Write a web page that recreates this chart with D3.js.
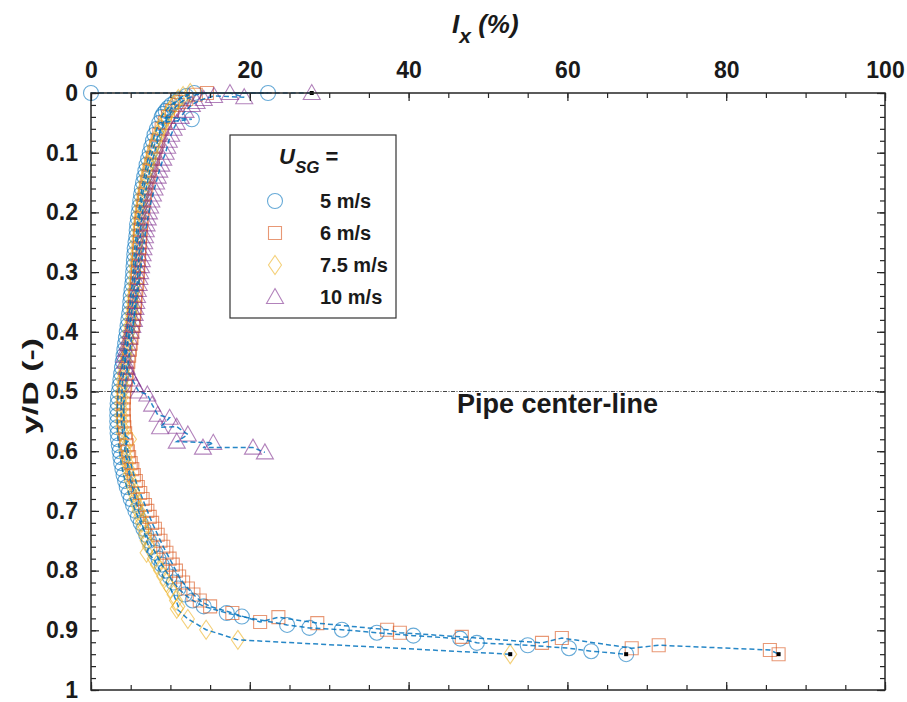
<!DOCTYPE html>
<html>
<head>
<meta charset="utf-8">
<script src="https://cdn.jsdelivr.net/npm/d3@7"></script>
<style>
  html, body { margin: 0; padding: 0; background: #fff; }
  svg { display: block; }
  text { font-family: Arial, "Liberation Sans", Helvetica, sans-serif; font-weight: bold; fill: #1a1a1a; }
</style>
</head>
<body>
<svg id="chart" width="907" height="702"></svg>
<script>
// ---------------- DATA ----------------
const xTicks = [0, 20, 40, 60, 80, 100];
const yTicks = [0, 0.1, 0.2, 0.3, 0.4, 0.5, 0.6, 0.7, 0.8, 0.9, 1];
const yTickLabels = ["0", "0.1", "0.2", "0.3", "0.4", "0.5", "0.6", "0.7", "0.8", "0.9", "1"];
const seriesNames = ["5 m/s", "6 m/s", "7.5 m/s", "10 m/s"];

// common y/D positions in the main band
const yBand = [0.10,0.11,0.12,0.13,0.14,0.15,0.16,0.17,0.18,0.19,0.20,0.21,0.22,0.23,0.24,0.25,0.26,0.27,0.28,0.29,
  0.30,0.31,0.32,0.33,0.34,0.35,0.36,0.37,0.38,0.39,0.40,0.41,0.42,0.43,0.44,0.45,0.46,0.47,0.48,0.49,
  0.50,0.51,0.52,0.53,0.54,0.55,0.56,0.57,0.58,0.59,0.60,0.61,0.62,0.63,0.64,0.65,0.66,0.67,0.68,0.69,
  0.70,0.71,0.72,0.73,0.74,0.75,0.76,0.77,0.78,0.79,0.80,0.81,0.82,0.83,0.84,0.85,0.86];

// U_SG = 5 m/s (circles)
const yTop5  = [0, 0, 0, 0.005, 0.01, 0.015, 0.02, 0.025, 0.03, 0.035, 0.04, 0.044, 0.05, 0.06, 0.07, 0.08, 0.09];
const ixTop5 = [0, 22.3, 13.0, 12.0, 11.2, 10.6, 10.1, 9.7, 9.4, 9.1, 8.9, 12.7, 8.6, 8.3, 8.0, 7.8, 7.6];
const ixBand5 = [7.4,7.2,7.0,6.85,6.7,6.55,6.4,6.3,6.2,6.1,6.0,5.9,5.8,5.75,5.7,5.6,5.5,5.45,5.4,5.35,
  5.3,5.25,5.2,5.1,5.0,4.95,4.9,4.8,4.7,4.6,4.5,4.4,4.3,4.2,4.1,4.0,3.9,3.8,3.7,3.6,
  3.5,3.4,3.35,3.3,3.3,3.3,3.3,3.35,3.4,3.5,3.6,3.7,3.8,3.95,4.1,4.3,4.5,4.75,5.0,5.3,
  5.6,5.9,6.25,6.6,6.95,7.3,7.7,8.1,8.5,8.9,9.4,9.9,10.4,11.0,11.8,12.8,14.2];
const yTail5  = [0.871, 0.877, 0.891, 0.896, 0.899, 0.904, 0.909, 0.914, 0.921, 0.925, 0.930, 0.935, 0.940];
const ixTail5 = [17.1, 19.0, 24.7, 27.5, 31.6, 36.0, 40.6, 46.5, 48.6, 55.0, 60.2, 63.0, 67.4];

// U_SG = 6 m/s (squares)
const yTop6  = [0, 0.003, 0.01, 0.015, 0.02, 0.03, 0.04, 0.05, 0.06, 0.07, 0.08, 0.09];
const ixTop6 = [14.6, 13.2, 12.0, 11.4, 10.9, 10.2, 9.7, 9.3, 8.9, 8.6, 8.4, 8.2];
const ixBand6 = [8.0,7.8,7.6,7.4,7.25,7.1,6.95,6.8,6.7,6.6,6.5,6.4,6.3,6.25,6.2,6.15,6.1,6.05,6.0,5.95,
  5.9,5.85,5.8,5.7,5.6,5.55,5.5,5.45,5.4,5.3,5.2,5.1,5.0,4.9,4.8,4.7,4.6,4.5,4.4,4.3,
  4.2,4.15,4.1,4.1,4.1,4.15,4.2,4.3,4.4,4.5,4.65,4.8,5.0,5.2,5.4,5.65,5.9,6.2,6.5,6.8,
  7.1,7.4,7.7,8.05,8.4,8.75,9.1,9.5,9.9,10.3,10.7,11.1,11.6,12.2,12.9,13.7,15.0];
const yTail6  = [0.871, 0.886, 0.878, 0.888, 0.899, 0.904, 0.911, 0.921, 0.913, 0.930, 0.925, 0.933, 0.940];
const ixTail6 = [17.8, 21.3, 23.6, 28.5, 37.3, 38.9, 46.7, 56.8, 59.3, 68.1, 71.5, 85.5, 86.6];

// U_SG = 7.5 m/s (diamonds)
const yTop75  = [0, 0.005, 0.01, 0.02, 0.03, 0.04, 0.05, 0.06, 0.07, 0.08, 0.09];
const ixTop75 = [12.5, 11.6, 11.0, 10.4, 9.9, 9.5, 9.1, 8.8, 8.5, 8.2, 7.9];
const ixBand75 = [7.7,7.5,7.3,7.1,6.95,6.8,6.65,6.5,6.4,6.3,6.2,6.1,6.0,5.95,5.9,5.8,5.75,5.7,5.65,5.6,
  5.55,5.5,5.45,5.4,5.3,5.25,5.2,5.1,5.0,4.9,4.8,4.7,4.6,4.5,4.4,4.3,4.2,4.1,4.0,3.95,
  3.9,3.85,3.8,3.8,3.8,3.85,3.9,4.0,4.9,4.2,4.3,4.4,4.55,4.7,4.85,5.0,5.2,5.4,5.6,5.8,
  6.0,6.2,6.4,6.6,6.8,7.0,7.3,7.0,7.9,8.3,8.7,9.1,9.5,10.0,10.4,10.7,11.0];
const yTail75  = [0.864, 0.881, 0.899, 0.916, 0.940];
const ixTail75 = [10.8, 12.2, 14.5, 18.5, 52.8];

// U_SG = 10 m/s (triangles)
const yTop10  = [0, 0, 0.007, 0.005, 0.01, 0.015, 0.02, 0.03, 0.04, 0.05, 0.06, 0.07, 0.08, 0.09];
const ixTop10 = [27.8, 17.5, 19.3, 15.5, 14.2, 13.3, 12.7, 11.9, 11.3, 10.8, 10.4, 10.1, 9.8, 9.6];
const ixBand10 = [9.4,9.1,8.85,8.6,8.4,8.2,8.0,7.8,7.6,7.45,7.3,7.15,7.0,6.9,6.8,6.7,6.6,6.5,6.4,6.3,
  6.2,6.1,6.0,5.9,5.8,5.7,5.6,5.5,5.4,5.2,5.0,4.8,4.6,4.4,4.2,4.3,4.5,4.8,5.2,5.6,6.0]; // y 0.10 .. 0.50
const yTail10  = [0.505, 0.522, 0.539, 0.544, 0.560, 0.559, 0.572, 0.584, 0.586, 0.594, 0.594, 0.602];
const ixTail10 = [7.1, 7.7, 8.4, 9.9, 8.7, 10.8, 12.2, 10.8, 15.4, 14.1, 20.4, 21.9];

// end-of-profile markers (black dots)
const dotIx = [27.8, 67.4, 86.6, 52.8];
const dotY  = [0, 0.940, 0.940, 0.940];

// ---------------- CHART ----------------
const svg = d3.select("#chart");
const x = d3.scaleLinear().domain([0, 100]).range([91, 885]);
const y = d3.scaleLinear().domain([0, 1]).range([93, 690]);

function build(yt, it, ib, yb, ytl, itl) {
  const pts = [];
  yt.forEach((v, i) => pts.push([it[i], v]));
  ib.forEach((v, i) => pts.push([v, yb[i]]));
  ytl.forEach((v, i) => pts.push([itl[i], v]));
  return pts;
}
const series = [
  { name: seriesNames[0], shape: "circle",   color: "#0072BD", pts: build(yTop5, ixTop5, ixBand5, yBand, yTail5, ixTail5) },
  { name: seriesNames[1], shape: "square",   color: "#D95319", pts: build(yTop6, ixTop6, ixBand6, yBand, yTail6, ixTail6) },
  { name: seriesNames[2], shape: "diamond",  color: "#EDB120", pts: build(yTop75, ixTop75, ixBand75, yBand, yTail75, ixTail75) },
  { name: seriesNames[3], shape: "triangle", color: "#7E2F8E", pts: build(yTop10, ixTop10, ixBand10, yBand.slice(0, ixBand10.length), yTail10, ixTail10) }
];

function markerPath(shape) {
  switch (shape) {
    case "circle":   return "M7.5,0A7.5,7.5 0 1,1 -7.5,0A7.5,7.5 0 1,1 7.5,0Z";
    case "square":   return "M-6.5,-6.5H6.5V6.5H-6.5Z";
    case "diamond":  return "M0,-9.5L6.5,0L0,9.5L-6.5,0Z";
    case "triangle": return "M0,-8.5L8.5,6.5H-8.5Z";
  }
}

// pipe centre-line
svg.append("line")
  .attr("x1", x(0)).attr("x2", x(100)).attr("y1", y(0.5)).attr("y2", y(0.5))
  .attr("stroke", "#444").attr("stroke-width", 1.2).attr("stroke-dasharray", "4,1.5,1,1.5");
svg.append("text").attr("x", 457).attr("y", y(0.5) + 21)
  .attr("font-size", 27).text("Pipe center-line");

// markers
const gM = svg.append("g");
series.forEach(s => {
  gM.selectAll(null).data(s.pts).enter().append("path")
    .attr("d", markerPath(s.shape))
    .attr("transform", d => `translate(${x(d[0])},${y(d[1])})`)
    .attr("fill", "none").attr("stroke", s.color)
    .attr("stroke-opacity", 0.6).attr("stroke-width", 1.1);
});

// dashed connecting lines
const line = d3.line().x(d => x(d[0])).y(d => y(d[1]));
series.forEach(s => {
  svg.append("path").datum(s.pts).attr("d", line)
    .attr("fill", "none").attr("stroke", "#0072BD").attr("stroke-opacity", 0.85)
    .attr("stroke-width", 1.5).attr("stroke-dasharray", "5,3");
});

// black end dots
svg.selectAll(null).data(dotIx).enter().append("rect")
  .attr("x", (d) => x(d) - 2).attr("y", (d, i) => y(dotY[i]) - 2)
  .attr("width", 4).attr("height", 4).attr("fill", "#000");

// axes
const axisColor = "#262626";
const minorX = d3.range(0, 101, 5);
const minorY = d3.range(0, 51).map(i => i / 50);

svg.append("g").attr("transform", `translate(0,${y(0)})`)
  .call(d3.axisTop(x).tickValues(xTicks).tickSize(-8).tickPadding(15).tickFormat(d3.format("d")));
svg.append("g").attr("transform", `translate(0,${y(0)})`)
  .call(d3.axisTop(x).tickValues(minorX).tickSize(-5).tickFormat(""));
svg.append("g").attr("transform", `translate(0,${y(1)})`)
  .call(d3.axisBottom(x).tickValues(xTicks).tickSize(-8).tickFormat(""));
svg.append("g").attr("transform", `translate(0,${y(1)})`)
  .call(d3.axisBottom(x).tickValues(minorX).tickSize(-5).tickFormat(""));

svg.append("g").attr("transform", `translate(${x(0)},0)`)
  .call(d3.axisLeft(y).tickValues(yTicks).tickSize(-8).tickPadding(13).tickFormat((d, i) => yTickLabels[i]));
svg.append("g").attr("transform", `translate(${x(0)},0)`)
  .call(d3.axisLeft(y).tickValues(minorY).tickSize(-5).tickFormat(""));
svg.append("g").attr("transform", `translate(${x(100)},0)`)
  .call(d3.axisRight(y).tickValues(yTicks).tickSize(-8).tickFormat(""));
svg.append("g").attr("transform", `translate(${x(100)},0)`)
  .call(d3.axisRight(y).tickValues(minorY).tickSize(-5).tickFormat(""));

svg.selectAll(".domain").remove();
svg.selectAll(".tick line").attr("stroke", axisColor).attr("stroke-width", 1.2);
svg.selectAll(".tick text").attr("font-size", 23).attr("font-family", "Arial, 'Liberation Sans', sans-serif")
  .attr("font-weight", "bold").attr("fill", "#1a1a1a");

svg.append("rect").attr("x", x(0)).attr("y", y(0)).attr("width", x(100) - x(0)).attr("height", y(1) - y(0))
  .attr("fill", "none").attr("stroke", axisColor).attr("stroke-width", 1.5);

// axis titles
const tt = svg.append("text").attr("x", 452).attr("y", 33).attr("font-size", 26).attr("font-style", "italic");
tt.append("tspan").text("I");
tt.append("tspan").attr("dy", 10).attr("font-size", 21).text("x");
tt.append("tspan").attr("dy", -10).text(" (%)");

svg.append("text").attr("transform", `translate(38,386) rotate(-90)`).attr("text-anchor", "middle")
  .attr("font-size", 22).attr("textLength", 96).attr("lengthAdjust", "spacingAndGlyphs").text("y/D (-)");

// legend
const lg = svg.append("g");
lg.append("rect").attr("x", 230).attr("y", 135).attr("width", 166).attr("height", 183)
  .attr("fill", "#fff").attr("stroke", "#333").attr("stroke-width", 1.2);
const lt = lg.append("text").attr("x", 279).attr("y", 164).attr("font-size", 22).attr("font-style", "italic");
lt.append("tspan").text("U");
lt.append("tspan").attr("dy", 9).attr("font-size", 17).text("SG");
lt.append("tspan").attr("dy", -9).attr("font-style", "normal").text(" =");
const rowY = [201, 233, 265, 297];
series.forEach((s, i) => {
  lg.append("path").attr("d", markerPath(s.shape))
    .attr("transform", `translate(275,${rowY[i]})`)
    .attr("fill", "none").attr("stroke", s.color).attr("stroke-opacity", 0.6).attr("stroke-width", 1.1);
  lg.append("text").attr("x", 320).attr("y", rowY[i] + 7).attr("font-size", 20).text(s.name);
});
</script>
</body>
</html>
